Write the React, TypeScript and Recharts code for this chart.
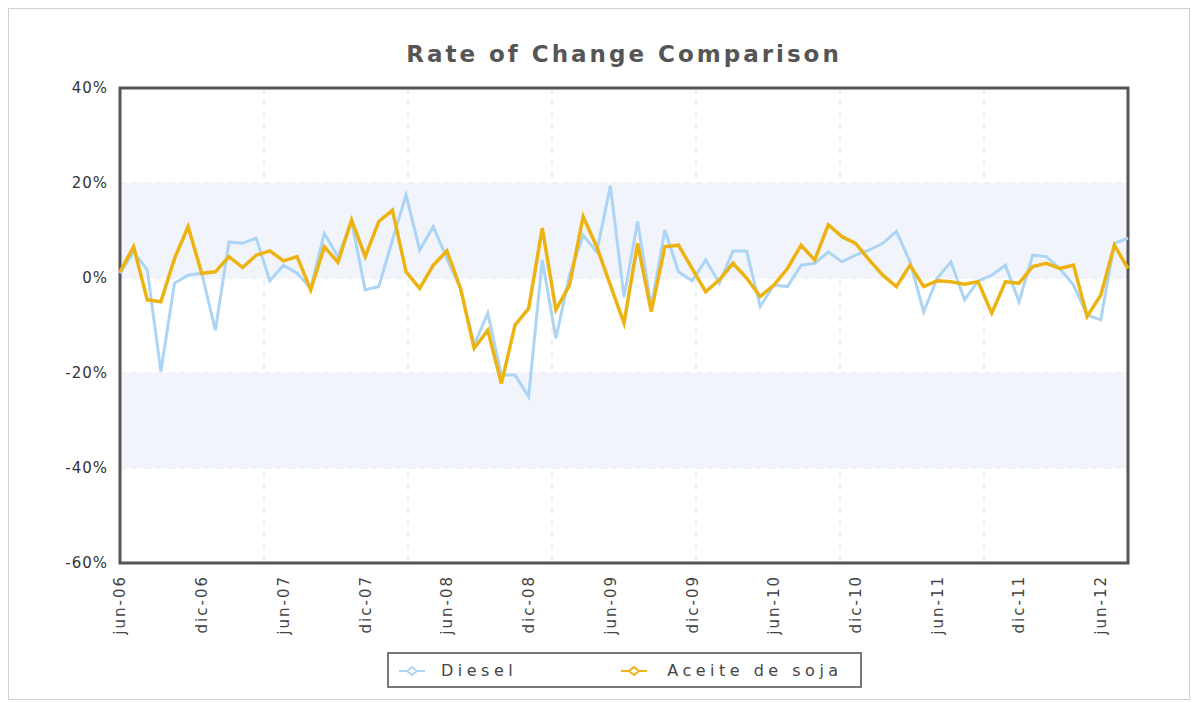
import React from 'react';
import { LineChart, Line, XAxis, YAxis, CartesianGrid, ReferenceArea } from 'recharts';

const MONTHS = [
  'jun-06', 'jul-06', 'ago-06', 'sep-06', 'oct-06', 'nov-06', 'dic-06',
  'ene-07', 'feb-07', 'mar-07', 'abr-07', 'may-07', 'jun-07', 'jul-07', 'ago-07', 'sep-07', 'oct-07', 'nov-07', 'dic-07',
  'ene-08', 'feb-08', 'mar-08', 'abr-08', 'may-08', 'jun-08', 'jul-08', 'ago-08', 'sep-08', 'oct-08', 'nov-08', 'dic-08',
  'ene-09', 'feb-09', 'mar-09', 'abr-09', 'may-09', 'jun-09', 'jul-09', 'ago-09', 'sep-09', 'oct-09', 'nov-09', 'dic-09',
  'ene-10', 'feb-10', 'mar-10', 'abr-10', 'may-10', 'jun-10', 'jul-10', 'ago-10', 'sep-10', 'oct-10', 'nov-10', 'dic-10',
  'ene-11', 'feb-11', 'mar-11', 'abr-11', 'may-11', 'jun-11', 'jul-11', 'ago-11', 'sep-11', 'oct-11', 'nov-11', 'dic-11',
  'ene-12', 'feb-12', 'mar-12', 'abr-12', 'may-12', 'jun-12', 'jul-12', 'ago-12',
];

const DIESEL = [
  1, 5.5, 1.7, -19.7, -1.1, 0.6, 1,
  -11, 7.6, 7.3, 8.4, -0.6, 2.7, 1, -2.2, 9.4, 4.5, 11.9, -2.5,
  -1.8, 8, 17.5, 5.9, 10.8, 4.1, -2.2, -14.1, -7.4, -20.4, -20.4, -25,
  3.8, -12.7, 0.6, 9, 5.5, 19.4, -4, 11.9, -6, 10.1, 1.3, -0.6,
  3.8, -1.1, 5.7, 5.7, -6, -1.5, -1.8, 2.7, 3.1, 5.5, 3.4, 4.8,
  5.9, 7.3, 9.8, 3.4, -7.1, 0, 3.4, -4.6, -0.6, 0.6, 2.7, -5,
  4.8, 4.5, 2, -1.5, -7.8, -8.8, 7.3, 8.4,
];

const ACEITE = [
  1.3, 6.6, -4.6, -5, 4.1, 10.8, 1,
  1.3, 4.5, 2.2, 4.8, 5.7, 3.6, 4.5, -2.5, 6.6, 3.3, 12.2, 4.5,
  11.9, 14.3, 1.3, -2.2, 2.7, 5.7, -2.2, -14.8, -11, -22.2, -9.9, -6.4,
  10.5, -6.7, -1.5, 12.9, 6.6, -1.5, -9.5, 7.3, -7.1, 6.6, 6.9, 2,
  -2.9, -0.4, 3.1, 0, -3.9, -1.5, 2, 6.9, 3.8, 11.2, 8.7, 7.3,
  3.8, 0.6, -1.8, 2.7, -1.8, -0.6, -0.8, -1.3, -0.8, -7.4, -0.8, -1.1,
  2.4, 3.1, 2, 2.7, -8.1, -3.6, 6.9, 2,
];

const X_TICKS = [
  'jun-06', 'dic-06', 'jun-07', 'dic-07', 'jun-08', 'dic-08', 'jun-09',
  'dic-09', 'jun-10', 'dic-10', 'jun-11', 'dic-11', 'jun-12',
];
const Y_TICKS = [-60, -40, -20, 0, 20, 40];

const data = MONTHS.map((m, i) => ({ month: m, diesel: DIESEL[i], aceite: ACEITE[i] }));

const FONT = '"DejaVu Sans", Verdana, sans-serif';
const BLUE = '#acd5f5';
const YELLOW = '#ecb312';

const XTick = (props: any) => {
  const { x, y, payload } = props;
  return (
    <text
      x={0}
      y={0}
      transform={`translate(${x},${y}) rotate(-90)`}
      textAnchor="end"
      dy="0.36em"
      fontSize={15}
      letterSpacing={2}
      fill="#444"
      fontFamily={FONT}
    >
      {payload.value}
    </text>
  );
};

const LegendIcon = ({ color }: { color: string }) => (
  <svg width={26} height={12} style={{ verticalAlign: 'middle' }}>
    <line x1={0} y1={6} x2={26} y2={6} stroke={color} strokeWidth={2} />
    <path d="M13 2 L18 6 L13 10 L8 6 Z" fill="#fff" stroke={color} strokeWidth={2} />
  </svg>
);

export default function App() {
  return (
    <div
      style={{
        position: 'relative',
        width: 1180,
        height: 690,
        border: '1px solid #d0d0d0',
        fontFamily: FONT,
      }}
    >
      <div
        style={{
          position: 'absolute',
          top: 32,
          left: 111,
          width: 1008,
          textAlign: 'center',
          fontSize: 23,
          fontWeight: 'bold',
          letterSpacing: 3,
          color: '#555',
        }}
      >
        Rate of Change Comparison
      </div>

      <LineChart
        width={1180}
        height={690}
        data={data}
        margin={{ top: 79, right: 61, bottom: 56, left: 11 }}
      >
        <ReferenceArea y1={0} y2={20} fill="#f1f4fb" fillOpacity={1} stroke="none" />
        <ReferenceArea y1={-40} y2={-20} fill="#f1f4fb" fillOpacity={1} stroke="none" />
        <CartesianGrid
          stroke="#dadfea"
          strokeDasharray="6 6"
          verticalCoordinatesGenerator={({ offset }: any) =>
            [1, 2, 3, 4, 5, 6].map((k) => offset.left + (offset.width * k) / 7)
          }
        />
        <XAxis
          dataKey="month"
          ticks={X_TICKS}
          interval={0}
          tick={<XTick />}
          tickLine={false}
          axisLine={false}
          tickSize={0}
          tickMargin={12}
          height={80}
        />
        <YAxis
          domain={[-60, 40]}
          ticks={Y_TICKS}
          tickFormatter={(v) => `${v}%`}
          tickLine={false}
          axisLine={false}
          tickSize={0}
          tickMargin={12}
          width={100}
          tick={{ fontSize: 15, fill: '#333', fontFamily: FONT, letterSpacing: 1 }}
        />
        <Line
          type="linear"
          dataKey="diesel"
          name="Diesel"
          stroke={BLUE}
          strokeWidth={3}
          dot={false}
          isAnimationActive={false}
        />
        <Line
          type="linear"
          dataKey="aceite"
          name="Aceite de soja"
          stroke={YELLOW}
          strokeWidth={3.5}
          dot={false}
          isAnimationActive={false}
        />
        <ReferenceArea
          x1={MONTHS[0]}
          x2={MONTHS[MONTHS.length - 1]}
          y1={-60}
          y2={40}
          fill="none"
          stroke="#555"
          strokeWidth={3}
          ifOverflow="visible"
        />
      </LineChart>

      <div
        style={{
          position: 'absolute',
          left: 378,
          top: 643,
          width: 471,
          height: 32,
          border: '2px solid #777',
          display: 'flex',
          alignItems: 'center',
          fontSize: 16,
          letterSpacing: 4.5,
          color: '#444',
        }}
      >
        <span style={{ marginLeft: 10 }}>
          <LegendIcon color={BLUE} />
        </span>
        <span style={{ marginLeft: 16 }}>Diesel</span>
        <span style={{ marginLeft: 104 }}>
          <LegendIcon color={YELLOW} />
        </span>
        <span style={{ marginLeft: 20 }}>Aceite de soja</span>
      </div>
    </div>
  );
}
